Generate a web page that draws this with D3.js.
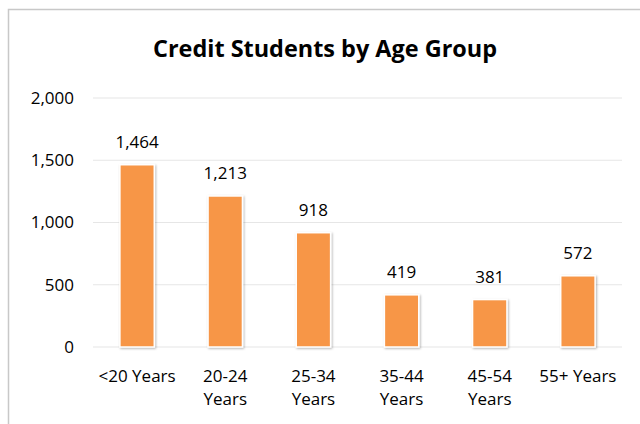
<!DOCTYPE html>
<html>
<head>
<meta charset="utf-8">
<script src="https://cdn.jsdelivr.net/npm/d3@7"></script>
<style>
  body { margin: 0; background: #fff; }
  text { font-family: "Open Sans", Lato, sans-serif; fill: #000; }
</style>
</head>
<body>
<div id="chart"></div>
<script>
var categories = [['<20 Years'], ['20-24', 'Years'], ['25-34', 'Years'], ['35-44', 'Years'], ['45-54', 'Years'], ['55+ Years']];
var students = [1464, 1213, 918, 419, 381, 572];
var yTicks = [0, 500, 1000, 1500, 2000];

var width = 640,
    height = 424;

var svg = d3.select('#chart').append('svg').attr('width', width).attr('height', height);

var defs = svg.append('defs');
var f = defs.append('filter').attr('id', 'shadow').attr('x', '-20%').attr('y', '-10%').attr('width', '150%').attr('height', '130%');
f.append('feDropShadow').attr('dx', 1).attr('dy', 1).attr('stdDeviation', 1.2).attr('flood-color', '#000').attr('flood-opacity', 0.3);

// chart border
svg.append('rect')
  .attr('x', 8.5).attr('y', 9.5)
  .attr('width', 660).attr('height', 440)
  .attr('fill', 'none').attr('stroke', '#c8c8c8').attr('stroke-width', 1.5);

svg.append('text')
  .attr('x', 325).attr('y', 57)
  .attr('text-anchor', 'middle')
  .style('font-size', '24px').style('font-weight', 'bold')
  .attr('textLength', 344).attr('lengthAdjust', 'spacingAndGlyphs')
  .text('Credit Students by Age Group');

var xScale = d3.scaleBand()
  .domain(d3.range(categories.length))
  .range([93, 622])
  .paddingInner(0.61)
  .paddingOuter(0.305);

var yScale = d3.scaleLinear()
  .domain([0, 2000])
  .range([347, 98]);

// gridlines
svg.append('g').selectAll('line')
  .data(yTicks)
  .enter().append('line')
  .attr('x1', 93).attr('x2', 622)
  .attr('y1', function(d) { return yScale(d); })
  .attr('y2', function(d) { return yScale(d); })
  .attr('stroke', '#e6e6e6').attr('stroke-width', 1.2);

var yAxis = d3.axisLeft(yScale).tickValues(yTicks).tickSize(0).tickPadding(0).tickFormat(d3.format(','));
var yG = svg.append('g')
  .attr('transform', 'translate(74,0)')
  .call(yAxis);
yG.select('.domain').remove();
yG.selectAll('text').style('font-size', '17px').style('font-family', '"Open Sans", sans-serif').attr('fill', '#000');

// bars
svg.append('g').selectAll('rect')
  .data(students)
  .enter().append('rect')
  .attr('x', function(d, i) { return xScale(i); })
  .attr('y', function(d) { return yScale(d); })
  .attr('width', xScale.bandwidth())
  .attr('height', function(d) { return yScale(0) - yScale(d); })
  .attr('fill', '#f79646')
  .attr('stroke', '#fff')
  .attr('stroke-width', 1.5)
  .attr('filter', 'url(#shadow)');

// value labels
svg.append('g').selectAll('text')
  .data(students)
  .enter().append('text')
  .attr('x', function(d, i) { return xScale(i) + xScale.bandwidth() / 2; })
  .attr('y', function(d) { return yScale(d) - 17; })
  .attr('text-anchor', 'middle')
  .style('font-size', '17px')
  .text(function(d) { return d3.format(',')(d); });

// category labels
var xl = svg.append('g').selectAll('text')
  .data(categories)
  .enter().append('text')
  .attr('x', function(d, i) { return xScale(i) + xScale.bandwidth() / 2; })
  .attr('y', 382)
  .attr('text-anchor', 'middle')
  .style('font-size', '17px');
xl.selectAll('tspan')
  .data(function(d) { return d; })
  .enter().append('tspan')
  .attr('x', function() { return this.parentNode.getAttribute('x'); })
  .attr('dy', function(d, i) { return i === 0 ? 0 : 23; })
  .text(function(d) { return d; });
</script>
</body>
</html>
